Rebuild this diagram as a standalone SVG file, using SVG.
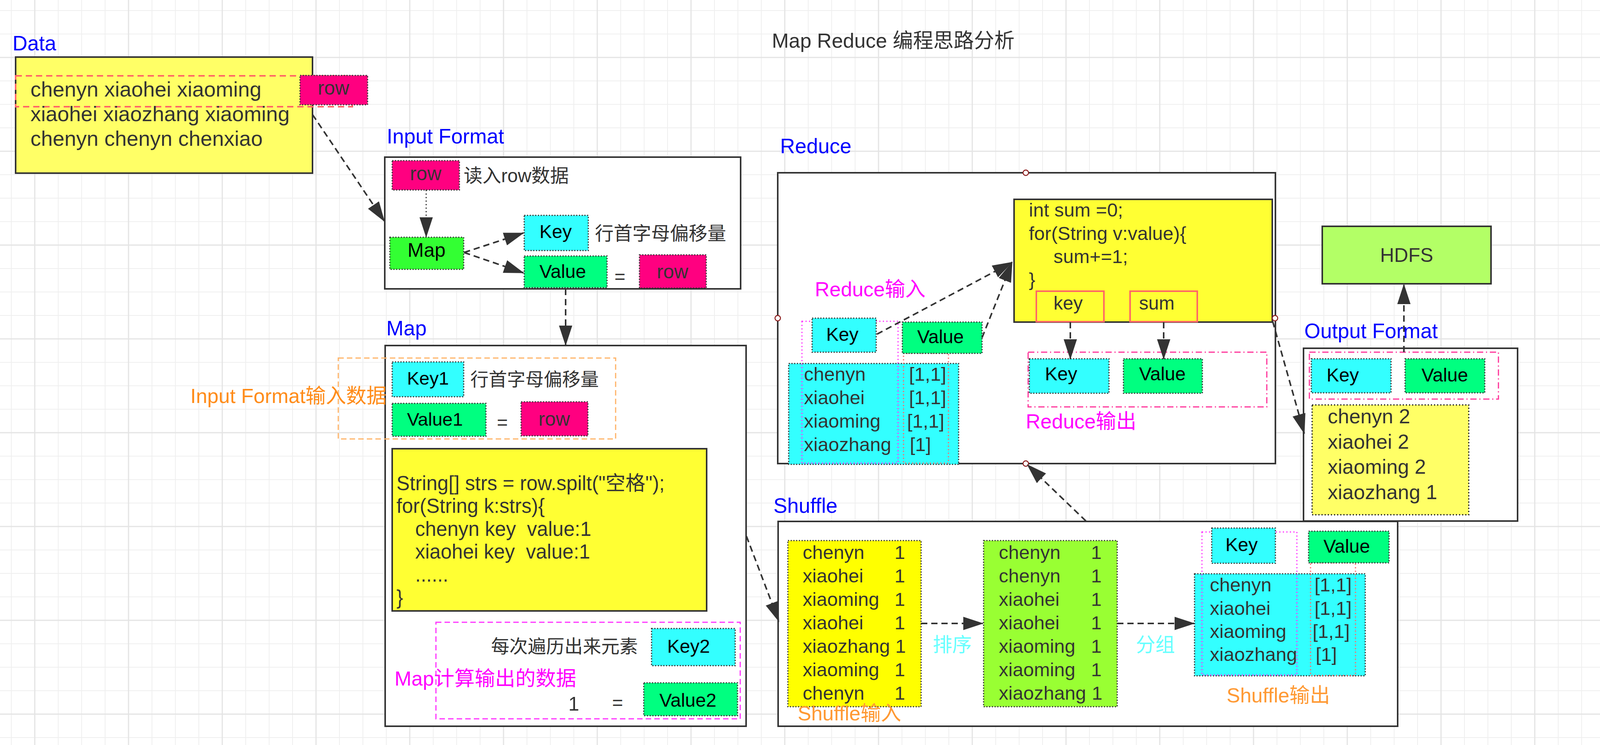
<svg xmlns="http://www.w3.org/2000/svg" width="4168" height="1906" viewBox="0 0 4168 1906" font-size="48">
<defs>
<pattern id="grid" patternUnits="userSpaceOnUse" x="89" y="147" width="240" height="240">
<rect x="0" y="0" width="240" height="240" fill="#fff"/>
<rect x="59" y="0" width="2" height="240" fill="#efefef"/>
<rect x="119" y="0" width="2" height="240" fill="#efefef"/>
<rect x="179" y="0" width="2" height="240" fill="#efefef"/>
<rect x="0" y="59" width="240" height="2" fill="#efefef"/>
<rect x="0" y="119" width="240" height="2" fill="#efefef"/>
<rect x="0" y="179" width="240" height="2" fill="#efefef"/>
<rect x="-1.5" y="0" width="3" height="240" fill="#e4e4e4"/>
<rect x="238.5" y="0" width="3" height="240" fill="#e4e4e4"/>
<rect x="0" y="-1.5" width="240" height="3" fill="#e4e4e4"/>
<rect x="0" y="238.5" width="240" height="3" fill="#e4e4e4"/>
</pattern>
<linearGradient id="edge" x1="0" x2="1" y1="0" y2="0">
<stop offset="0" stop-color="#ddd" stop-opacity="0"/>
<stop offset="1" stop-color="#ccc" stop-opacity="1"/>
</linearGradient>
<marker id="ah" markerUnits="userSpaceOnUse" markerWidth="52" markerHeight="34" refX="50" refY="17" orient="auto">
<path d="M0,0 L52,17 L0,34 Z" fill="#333"/>
</marker>
</defs>
<style>
text{font-family:'Liberation Sans','Noto Sans CJK SC',sans-serif;fill:#333}
.lbl{font-size:53px;fill:#0000ff}
.k{fill:#000}
.box{fill:#fff;stroke:#333;stroke-width:4}
.dot{stroke:#333;stroke-width:3;stroke-dasharray:3 4}
.cy{fill:#33ffff}
.vg{fill:#00ff80}
.pk{fill:#ff0080}
.code{fill:#ffff33;stroke:#333;stroke-width:4}
.mag{fill:#ff00ff;font-size:52px}
.org{fill:#ff9933;font-size:52px}
.dd{fill:none;stroke:#ff3399;stroke-width:3;stroke-dasharray:16 7 3 7}
.mdot{fill:none;stroke:#ff33ff;stroke-width:3;stroke-dasharray:3 6}
.rdot{fill:none;stroke:#ff6666;stroke-width:3;stroke-dasharray:3 6}
.conn{fill:none;stroke:#333;stroke-width:4;stroke-dasharray:16 10;marker-end:url(#ah)}
.pin{fill:#fff;stroke:#8b1a1a;stroke-width:2.5}
</style>
<rect x="0" y="0" width="4168" height="1906" fill="url(#grid)"/>
<rect x="4156" y="0" width="12" height="1906" fill="url(#edge)"/>

<g id="title">
<text x="1976" y="122" font-size="52">Map Reduce 编程思路分析</text>
</g>

<g id="data">
<text class="lbl" x="32" y="129">Data</text>
<rect x="40" y="146" width="760" height="297" fill="#ffff66" stroke="#333" stroke-width="4"/>
<rect x="40" y="194" width="862" height="79" fill="none" stroke="#ff6666" stroke-width="4" stroke-dasharray="16 10"/>
<text x="78" y="247" font-size="54">chenyn xiaohei xiaoming</text>
<text x="78" y="310" font-size="54">xiaohei xiaozhang xiaoming</text>
<text x="78" y="373" font-size="54">chenyn chenyn chenxiao</text>
<rect class="pk dot" x="768" y="193" width="173" height="75"/>
<text x="854" y="242" font-size="50" text-anchor="middle">row</text>
</g>

<g id="input-format">
<text class="lbl" x="990" y="367">Input Format</text>
<rect class="box" x="985" y="402" width="911" height="337"/>
<rect class="pk dot" x="1004" y="411" width="172" height="75"/>
<text x="1090" y="461" font-size="50" text-anchor="middle">row</text>
<text x="1187" y="466">读入row数据</text>
<rect class="dot" fill="#33ff33" x="998" y="607" width="189" height="82"/>
<text class="k" x="1092" y="657" font-size="50" text-anchor="middle">Map</text>
<rect class="cy dot" x="1342" y="551" width="164" height="90"/>
<text class="k" x="1381" y="609">Key</text>
<text x="1523" y="614">行首字母偏移量</text>
<rect class="vg dot" x="1342" y="655" width="212" height="81"/>
<text class="k" x="1381" y="711">Value</text>
<text x="1573" y="724">=</text>
<rect class="pk dot" x="1637" y="652" width="171" height="85"/>
<text x="1722" y="712" font-size="50" text-anchor="middle">row</text>
</g>

<g id="map">
<text class="lbl" x="989" y="858">Map</text>
<rect class="box" x="986" y="884" width="924" height="974"/>
<rect x="866" y="916" width="710" height="207" fill="none" stroke="#ffb366" stroke-width="3" stroke-dasharray="14 8"/>
<text x="990" y="1031" font-size="52" text-anchor="end" style="fill:#ff8c1a">Input Format输入数据</text>
<rect class="cy dot" x="1004" y="926" width="183" height="89"/>
<text class="k" x="1042" y="984" font-size="47">Key1</text>
<text x="1204" y="987" font-size="47">行首字母偏移量</text>
<rect class="vg dot" x="1004" y="1032" width="240" height="84"/>
<text class="k" x="1042" y="1089" font-size="47">Value1</text>
<text x="1272" y="1097">=</text>
<rect class="pk dot" x="1334" y="1028" width="171" height="87"/>
<text x="1419" y="1089" font-size="50" text-anchor="middle">row</text>
<rect class="code" x="1004" y="1148" width="805" height="415"/>
<text x="1015" y="1254" font-size="51">String[] strs = row.spilt("空格");</text>
<text x="1015" y="1312" font-size="51">for(String k:strs){</text>
<text x="1063" y="1371" font-size="51" xml:space="preserve">chenyn key  value:1</text>
<text x="1063" y="1429" font-size="51" xml:space="preserve">xiaohei key  value:1</text>
<text x="1063" y="1488" font-size="51">......</text>
<text x="1015" y="1546" font-size="51">}</text>
<rect x="1116" y="1592" width="779" height="247" fill="none" stroke="#ff33ff" stroke-width="3" stroke-dasharray="14 8"/>
<text x="1257" y="1670" font-size="47">每次遍历出来元素</text>
<rect class="cy dot" x="1668" y="1608" width="214" height="95"/>
<text class="k" x="1708" y="1670">Key2</text>
<text class="mag" x="1010" y="1754">Map计算输出的数据</text>
<text x="1455" y="1818" font-size="50">1</text>
<text x="1567" y="1814">=</text>
<rect class="vg dot" x="1648" y="1747" width="240" height="84"/>
<text class="k" x="1688" y="1808">Value2</text>
</g>

<g id="reduce">
<text class="lbl" x="1997" y="392">Reduce</text>
<rect class="box" x="1991" y="442" width="1274" height="744"/>
<rect class="code" x="2596" y="510" width="661" height="314"/>
<text x="2634" y="554" font-size="49">int sum =0;</text>
<text x="2634" y="614" font-size="49">for(String v:value){</text>
<text x="2697" y="673" font-size="49">sum+=1;</text>
<text x="2634" y="732" font-size="49">}</text>
<rect x="2653" y="745" width="173" height="78" fill="none" stroke="#ff6666" stroke-width="4"/>
<text x="2697" y="792">key</text>
<rect x="2893" y="745" width="172" height="78" fill="none" stroke="#ff6666" stroke-width="4"/>
<text x="2916" y="792">sum</text>
<text class="mag" x="2086" y="758">Reduce输入</text>
<rect class="cy dot" x="2019" y="930" width="435" height="258"/>
<rect class="mdot" x="2053" y="822" width="246" height="363"/>
<rect class="rdot" x="2313" y="904" width="115" height="281"/>
<rect class="cy dot" x="2079" y="814" width="164" height="87"/>
<text class="k" x="2115" y="872">Key</text>
<rect class="vg dot" x="2310" y="824" width="204" height="80"/>
<text class="k" x="2348" y="878">Value</text>
<text x="2058" y="974" font-size="49">chenyn</text>
<text x="2058" y="1034" font-size="49">xiaohei</text>
<text x="2058" y="1094" font-size="49">xiaoming</text>
<text x="2058" y="1154" font-size="49">xiaozhang</text>
<text x="2327" y="974" font-size="49">[1,1]</text>
<text x="2327" y="1034" font-size="49">[1,1]</text>
<text x="2322" y="1094" font-size="49">[1,1]</text>
<text x="2329" y="1154" font-size="49">[1]</text>
<rect class="dd" x="2632" y="901" width="611" height="140"/>
<rect class="cy dot" x="2635" y="918" width="204" height="88"/>
<text class="k" x="2675" y="973">Key</text>
<rect class="vg dot" x="2876" y="918" width="202" height="88"/>
<text class="k" x="2916" y="973">Value</text>
<text class="mag" x="2626" y="1096">Reduce输出</text>
<circle class="pin" cx="2626" cy="442" r="7"/>
<circle class="pin" cx="1991" cy="814" r="7"/>
<circle class="pin" cx="3264" cy="814" r="7"/>
<circle class="pin" cx="2626" cy="1186" r="7"/>
</g>

<g id="shuffle">
<text class="lbl" x="1980" y="1312">Shuffle</text>
<rect class="box" x="1992" y="1334" width="1586" height="524"/>
<rect class="dot" fill="#ffff00" x="2017" y="1383" width="341" height="425"/>
<text x="2055" y="1430" font-size="49">chenyn</text><text x="2290" y="1430" font-size="49">1</text>
<text x="2055" y="1490" font-size="49">xiaohei</text><text x="2290" y="1490" font-size="49">1</text>
<text x="2055" y="1550" font-size="49">xiaoming</text><text x="2290" y="1550" font-size="49">1</text>
<text x="2055" y="1610" font-size="49">xiaohei</text><text x="2290" y="1610" font-size="49">1</text>
<text x="2055" y="1670" font-size="49">xiaozhang</text><text x="2292" y="1670" font-size="49">1</text>
<text x="2055" y="1730" font-size="49">xiaoming</text><text x="2290" y="1730" font-size="49">1</text>
<text x="2055" y="1790" font-size="49">chenyn</text><text x="2290" y="1790" font-size="49">1</text>
<text class="org" x="2042" y="1843">Shuffle输入</text>
<rect class="dot" fill="#99ff33" x="2518" y="1383" width="342" height="425"/>
<text x="2557" y="1430" font-size="49">chenyn</text><text x="2793" y="1430" font-size="49">1</text>
<text x="2557" y="1490" font-size="49">chenyn</text><text x="2793" y="1490" font-size="49">1</text>
<text x="2557" y="1550" font-size="49">xiaohei</text><text x="2793" y="1550" font-size="49">1</text>
<text x="2557" y="1610" font-size="49">xiaohei</text><text x="2793" y="1610" font-size="49">1</text>
<text x="2557" y="1670" font-size="49">xiaoming</text><text x="2793" y="1670" font-size="49">1</text>
<text x="2557" y="1730" font-size="49">xiaoming</text><text x="2793" y="1730" font-size="49">1</text>
<text x="2557" y="1790" font-size="49">xiaozhang</text><text x="2795" y="1790" font-size="49">1</text>
<text x="2388" y="1667" font-size="50" style="fill:#66ffff">排序</text>
<text x="2908" y="1667" font-size="50" style="fill:#66ffff">分组</text>
<rect class="cy dot" x="3058" y="1468" width="437" height="261"/>
<rect class="mdot" x="3077" y="1361" width="243" height="366"/>
<rect class="rdot" x="3355" y="1440" width="115" height="288"/>
<rect class="cy dot" x="3102" y="1351" width="163" height="90"/>
<text class="k" x="3137" y="1410">Key</text>
<rect class="vg dot" x="3350" y="1359" width="206" height="81"/>
<text class="k" x="3388" y="1414">Value</text>
<text x="3097" y="1513" font-size="49">chenyn</text>
<text x="3097" y="1573" font-size="49">xiaohei</text>
<text x="3097" y="1632" font-size="49">xiaoming</text>
<text x="3097" y="1691" font-size="49">xiaozhang</text>
<text x="3365" y="1513" font-size="49">[1,1]</text>
<text x="3365" y="1573" font-size="49">[1,1]</text>
<text x="3360" y="1632" font-size="49">[1,1]</text>
<text x="3368" y="1691" font-size="49">[1]</text>
<text class="org" x="3140" y="1797">Shuffle输出</text>
</g>

<g id="hdfs">
<rect x="3385" y="579" width="432" height="147" fill="#b3ff66" stroke="#333" stroke-width="4"/>
<text x="3601" y="670" font-size="50" text-anchor="middle">HDFS</text>
</g>

<g id="output-format">
<text class="lbl" x="3339" y="865">Output Format</text>
<rect class="box" x="3337" y="891" width="548" height="442"/>
<rect class="dd" x="3352" y="901" width="484" height="120"/>
<rect class="cy dot" x="3357" y="918" width="204" height="87"/>
<text class="k" x="3396" y="976">Key</text>
<rect class="vg dot" x="3597" y="918" width="204" height="87"/>
<text class="k" x="3639" y="976">Value</text>
<rect x="3359" y="1036" width="401" height="281" fill="#ffff66" stroke="#111" stroke-width="3" stroke-dasharray="3 5"/>
<text x="3399" y="1083" font-size="52">chenyn 2</text>
<text x="3399" y="1148" font-size="52">xiaohei 2</text>
<text x="3399" y="1212" font-size="52">xiaoming 2</text>
<text x="3399" y="1277" font-size="52">xiaozhang 1</text>
</g>

<g id="connectors">
<path class="conn" d="M800,293 L984,566"/>
<path class="conn" d="M1091,486 L1091,606" style="stroke-width:3;stroke-dasharray:3 6"/>
<path class="conn" d="M1188,646 L1340,596"/>
<path class="conn" d="M1188,646 L1340,698"/>
<path class="conn" d="M1448,739 L1448,883"/>
<path class="conn" d="M1911,1372 L1994,1590"/>
<path class="conn" d="M2358,1595 L2516,1595"/>
<path class="conn" d="M2860,1595 L3057,1595"/>
<path class="conn" d="M2780,1333 L2630,1189"/>
<path class="conn" d="M2245,855 L2591,671"/>
<path class="conn" d="M2514,864 L2591,671"/>
<path class="conn" d="M2740,824 L2740,918"/>
<path class="conn" d="M2979,824 L2979,918"/>
<path class="conn" d="M3258,822 L3339,1109"/>
<path class="conn" d="M3594,901 L3594,728"/>
</g>
</svg>
